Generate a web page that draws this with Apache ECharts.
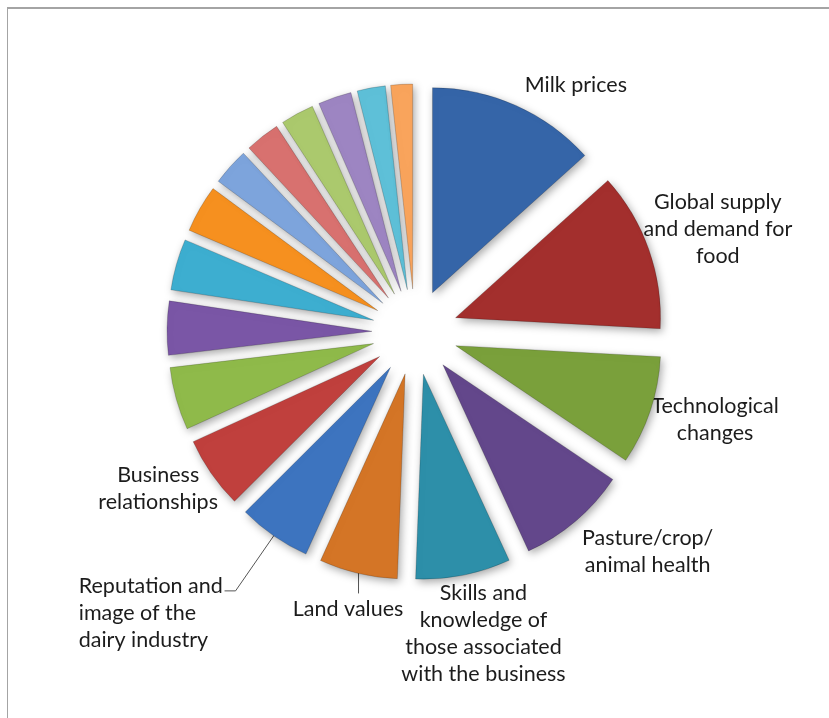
<!DOCTYPE html>
<html>
<head>
<meta charset="utf-8">
<script src="https://cdn.jsdelivr.net/npm/echarts@6/dist/echarts.min.js"></script>
<style>
  html, body { margin: 0; padding: 0; background: #ffffff; }
  #frame {
    position: absolute; left: 7px; top: 7px; width: 822px; height: 711px;
    border-top: 2px solid #a4a4a4; border-left: 1px solid #a4a4a4;
  }
  #chart { position: absolute; left: 0; top: 0; width: 829px; height: 718px; }
</style>
</head>
<body>
<div id="frame"></div>
<div id="chart"></div>
<script>
// Factors influencing the dairy business, clockwise from 12 o'clock
const factorNames = [
  'Milk prices',
  'Global supply and demand for food',
  'Technological changes',
  'Pasture/crop/animal health',
  'Skills and knowledge of those associated with the business',
  'Land values',
  'Reputation and image of the dairy industry',
  'Business relationships',
  'Factor 9', 'Factor 10', 'Factor 11', 'Factor 12', 'Factor 13',
  'Factor 14', 'Factor 15', 'Factor 16', 'Factor 17', 'Factor 18'
];

// Text shown next to each slice (empty = no label)
const factorLabels = [
  'Milk prices',
  'Global supply\nand demand for\nfood',
  'Technological\nchanges',
  'Pasture/crop/\nanimal health',
  'Skills and\nknowledge of\nthose associated\nwith the business',
  'Land values',
  'Reputation and\nimage of the\ndairy industry',
  'Business\nrelationships',
  '', '', '', '', '', '', '', '', '', ''
];

// Share of responses (%)
const shares = [
  13.2, 12.4, 8.5, 8.6, 7.4, 6.1, 5.7, 5.6,
  4.9, 4.2, 4.0, 3.7, 2.9, 2.7, 2.6, 2.6, 2.2, 1.7
];

const sliceColors = [
  '#3565a8', '#a32f2d', '#7aa03b', '#63478b', '#2d8fa9', '#d47526',
  '#3d74bf', '#c0403d', '#8fba4a', '#7a56a6', '#3daed0', '#f6901f',
  '#7da4dc', '#d8716f', '#abc96d', '#9d85c2', '#5ec0d8', '#f9a45c'
];

// Pie geometry
const CX = 415, CY = 332, RADIUS = 205, EXPLODE = 43;
const LABEL_FONT = '21.5px Lato';
const LINE_HEIGHT = 27;

// Label placement relative to the outer tip of each slice's bisector
const labelShift = [
  [60, -20], [69, -20], [65, 9], [72, 31], [20, 58], [-10, 36], [-195, 77], [-53, 15]
];

const total = shares.reduce((a, b) => a + b, 0);
const midAngles = [];
let acc = 0;
shares.forEach(v => {
  const span = v / total * 2 * Math.PI;
  midAngles.push(acc + span / 2);
  acc += span;
});

// Point on a slice's bisector, d pixels from the pie centre
function tip(i, d) {
  const a = midAngles[i];
  return [CX + d * Math.sin(a), CY - d * Math.cos(a)];
}

const labelGraphics = [];
factorLabels.forEach((txt, i) => {
  if (!txt) return;
  const base = tip(i, RADIUS + EXPLODE);
  const s = labelShift[i];
  const leftAligned = i === 6;
  labelGraphics.push({
    type: 'text',
    x: base[0] + s[0],
    y: base[1] + s[1],
    silent: true,
    style: {
      text: txt,
      font: LABEL_FONT,
      lineHeight: LINE_HEIGHT,
      fill: '#1c1c1c',
      align: leftAligned ? 'left' : 'center',
      verticalAlign: 'middle'
    }
  });
});

// Leader lines for the two labels sitting away from their slices
const landTip = tip(5, RADIUS + EXPLODE - 2);
labelGraphics.push({
  type: 'polyline', silent: true,
  shape: { points: [landTip, [landTip[0], landTip[1] + 22]] },
  style: { stroke: '#555555', lineWidth: 1, fill: null }
});
const repA = tip(6, RADIUS + EXPLODE - 3);
const repB = tip(6, RADIUS + EXPLODE + 67);
labelGraphics.push({
  type: 'polyline', silent: true,
  shape: { points: [repA, repB, [repB[0] - 11, repB[1]]] },
  style: { stroke: '#555555', lineWidth: 1, fill: null }
});

const chart = echarts.init(document.getElementById('chart'), null, { renderer: 'canvas' });

chart.setOption({
  animation: false,
  graphic: labelGraphics,
  series: [{
    type: 'pie',
    center: [CX, CY],
    radius: [0, RADIUS],
    startAngle: 90,
    clockwise: true,
    selectedMode: 'multiple',
    selectedOffset: EXPLODE,
    emphasis: { disabled: true },
    itemStyle: {
      borderColor: 'rgba(0,0,0,0.18)',
      borderWidth: 1,
      shadowBlur: 8,
      shadowColor: 'rgba(0,0,0,0.35)',
      shadowOffsetX: 2,
      shadowOffsetY: 3
    },
    label: { show: false },
    labelLine: { show: false },
    data: shares.map((v, i) => ({
      name: factorNames[i],
      value: v,
      selected: true,
      itemStyle: { color: sliceColors[i] }
    }))
  }]
});
</script>
</body>
</html>
